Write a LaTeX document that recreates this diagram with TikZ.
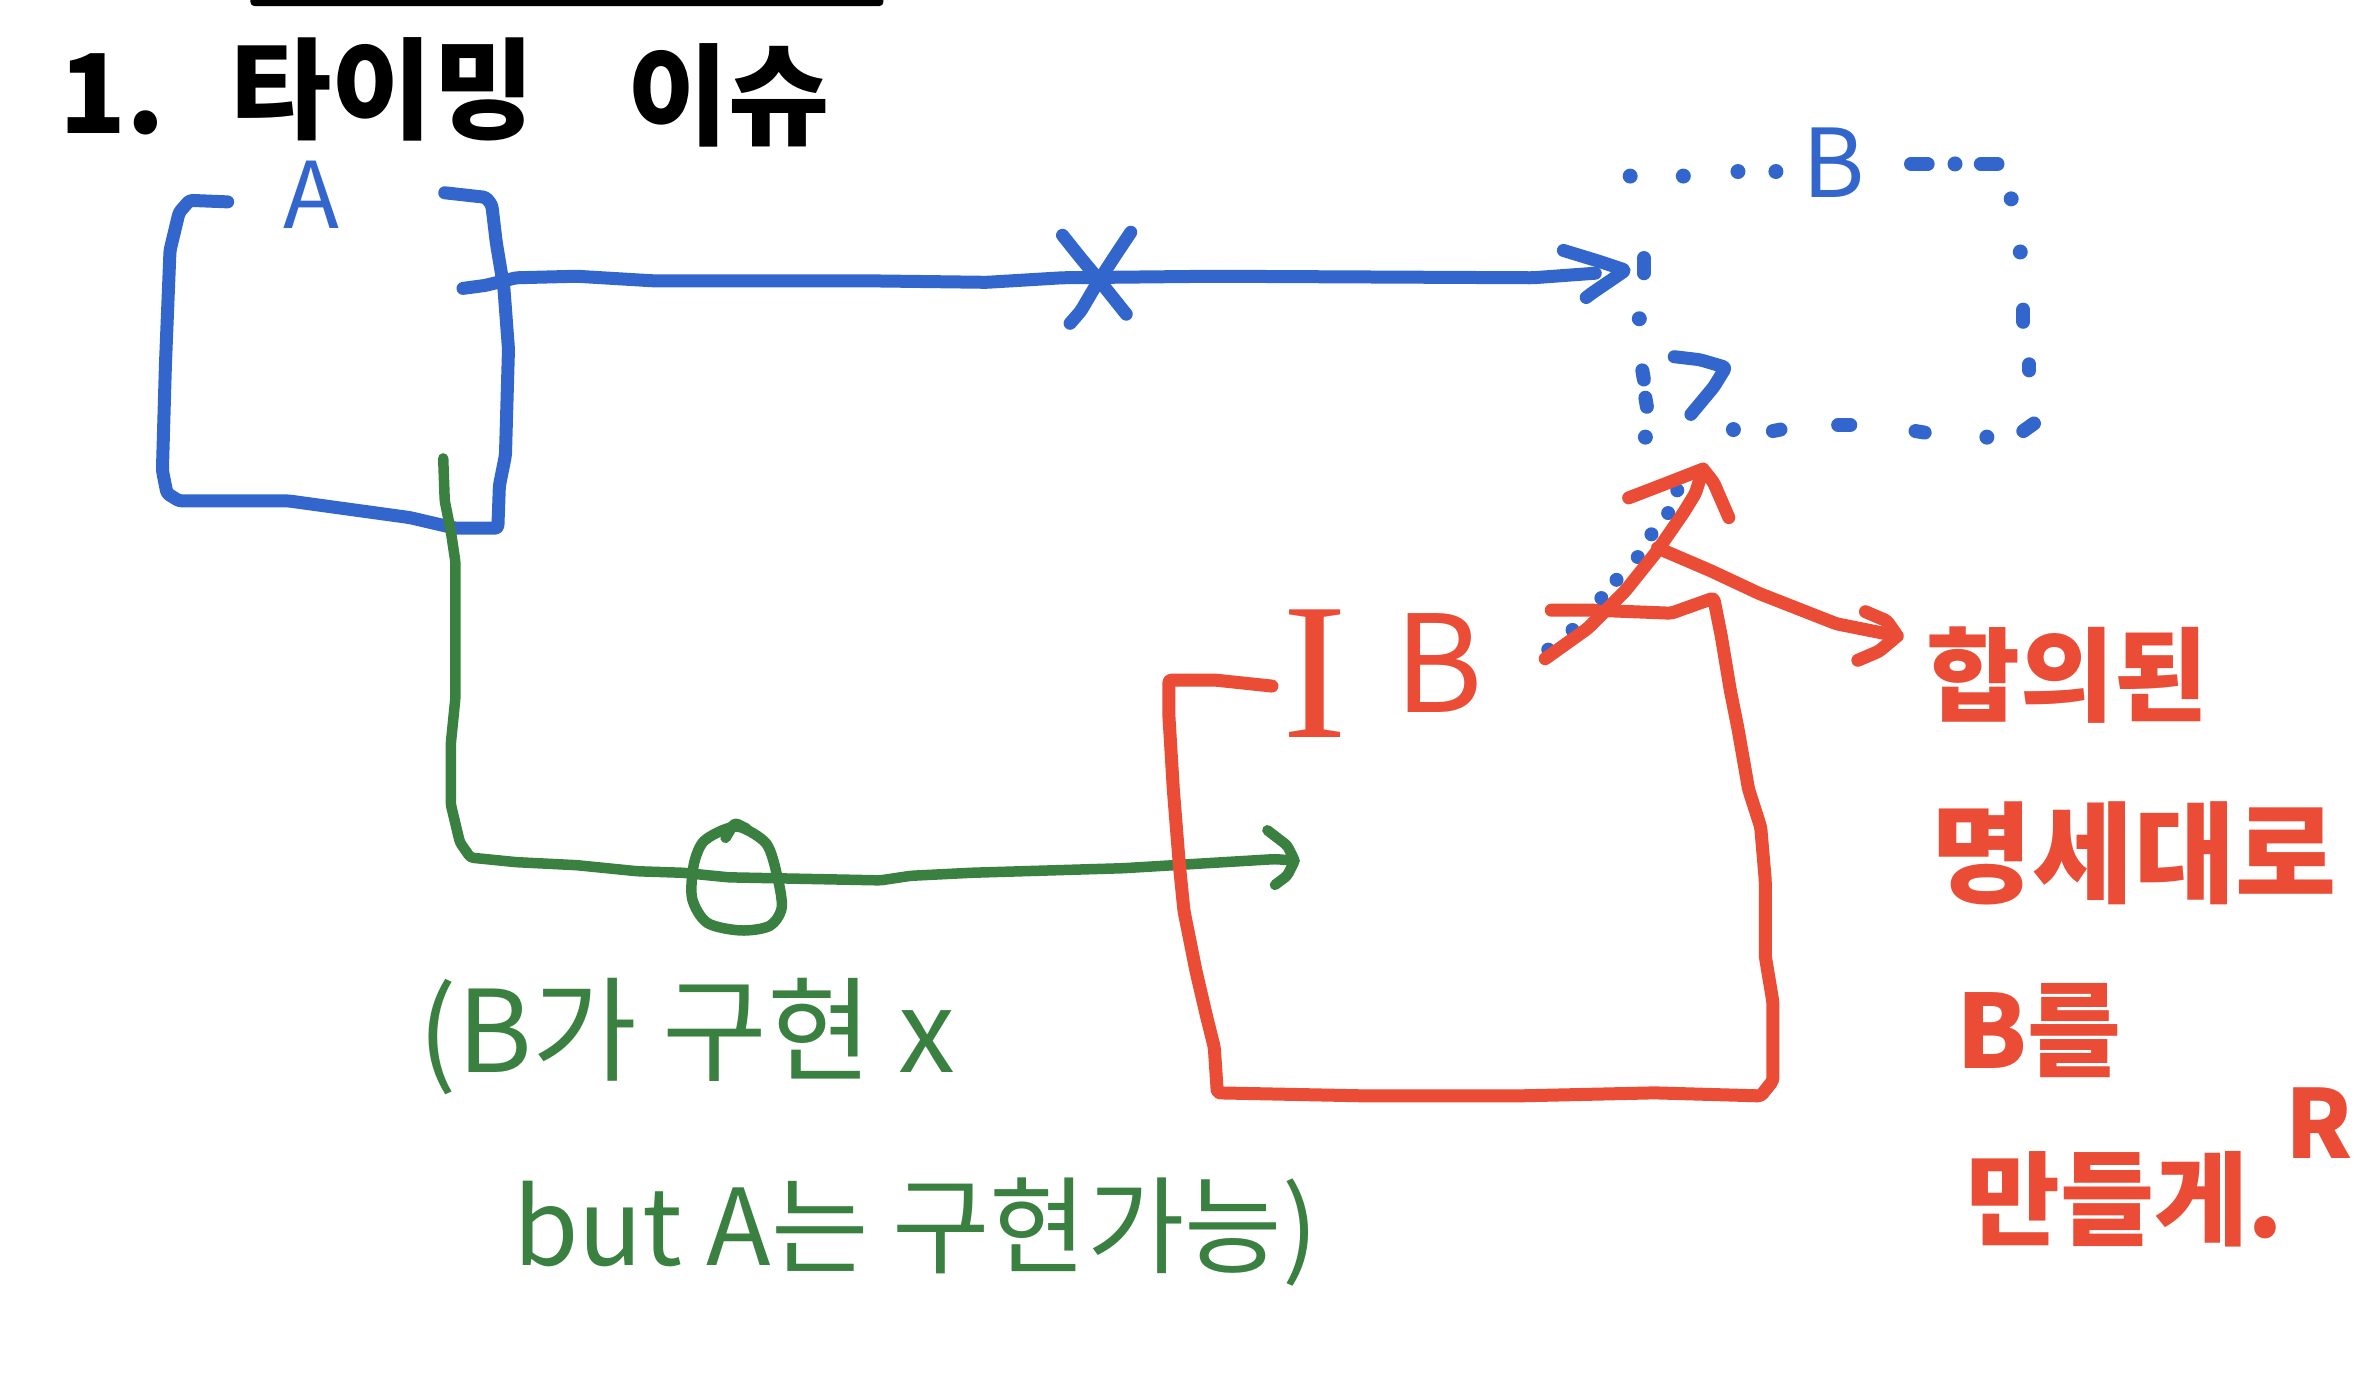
\documentclass[tikz,border=0pt]{standalone}
\usepackage{fontspec}
\setmainfont{Noto Sans CJK KR}
\newfontfamily\serifI{Liberation Serif}
\definecolor{pblue}{RGB}{51,102,204}
\definecolor{pred}{RGB}{234,76,54}
\definecolor{pgreen}{RGB}{58,128,64}
\newcommand{\fsz}[1]{\fontsize{#1pt}{#1pt}\selectfont}
\begin{document}
\begin{tikzpicture}[x=1.518pt,y=-1.518pt,
  bl/.style={draw=pblue,line width=13pt,line cap=round,line join=round,rounded corners=3pt},
  rd/.style={draw=pred,line width=13pt,line cap=round,line join=round,rounded corners=3pt},
  gr/.style={draw=pgreen,line width=10.5pt,line cap=round,line join=round,rounded corners=3pt},
  bdash/.style={draw=pblue,line width=14pt,line cap=round},
  txt/.style={inner sep=0pt,outer sep=0pt}]
\useasboundingbox[fill=white] (0,0) rectangle (1568,917);

% top black bar
\fill[black,rounded corners=4pt] (165,-8) rectangle (582,4);

% title
\node[txt,font=\fsz{110}\bfseries] (t1) at (74,62) {1.};
\node[txt,font=\fsz{110}\bfseries] (t2) at (252,59) {타이밍};
\node[txt,font=\fsz{110}\bfseries] (t3) at (480,63) {이슈};

% box A
\node[txt,text=pblue,font=\fsz{92}] (Alab) at (205,128) {A};
\draw[bl] (150,133) -- (125,132) -- (118,140) -- (112,165) -- (109,240) -- (107,310) -- (110,325) -- (118,330) -- (190,330) -- (270,341) -- (300,348) -- (328,348) -- (329,320) -- (333,300) -- (335,230) -- (332,190) -- (327,160) -- (324,135) -- (320,130) -- (293,127);

% blue arrow A -> B
\coordinate (a0) at (305,190);
\coordinate (a1) at (1051,180);
\coordinate (bt) at (1071,178);
\draw[bl] (a0) -- (320,188) -- (340,183) -- (380,182) -- (430,185) -- (570,185) -- (650,186) -- (700,183) -- (800,182) -- (1010,183) -- (a1);
\draw[bl] (1030,165) -- (1053,172) -- (bt) -- (1049,193) -- (1045,196);
% X mark
\draw[bl] (700,155) -- (712,170) -- (722,182) -- (742,207);
\draw[bl] (745,153) -- (735,168) -- (722,188) -- (712,205) -- (705,213);

% dotted box B
\node[txt,text=pblue,font=\fsz{95}] (Blab) at (1208,107) {B};
\foreach \p in {(1074,116),(1109,116),(1145,113),(1170,113),(1288,108),(1325,131),(1331,166),(1309,288),(1142,283),(1084,288),(1080,210)}
  \fill[pblue] \p circle[radius=7.5pt];
\draw[bdash] (1259,108) -- (1270,108);
\draw[bdash] (1305,108) -- (1316,108);
\draw[bdash] (1333,204) -- (1333,212);
\draw[bdash] (1337,240) -- (1337,244);
\draw[bdash] (1333,284) -- (1340,279);
\draw[bdash] (1262,284) -- (1268,285);
\draw[bdash] (1211,280) -- (1219,280);
\draw[bdash] (1168,284) -- (1173,283);
\draw[bdash] (1084,262) -- (1085,268);
\draw[bdash] (1082,244) -- (1083,250);
\draw[bdash] (1083,170) -- (1083,180);
% question hook
\draw[bl] (1103,235) -- (1120,237) -- (1137,242) -- (1129,255) -- (1114,273);

% green connector A -> red box
\coordinate (g0) at (292,302);
\coordinate (gt) at (853,567);
\draw[gr] (g0) -- (293,330) -- (297,350) -- (300,370) -- (300,460) -- (297,490) -- (297,530) -- (303,555) -- (310,565) -- (340,568) -- (380,570) -- (420,574) -- (450,575) -- (480,578) -- (580,580) -- (600,577) -- (640,575) -- (740,572) -- (840,566) -- (gt);
\draw[gr] (835,547) -- (848,557) -- (gt) -- (848,577) -- (840,583);
% green circle
\draw[gr,rounded corners=0pt] plot[smooth cycle] coordinates {(488,545) (505,556) (512,577) (515,598) (507,610) (488,613) (466,608) (456,592) (457,570) (463,555) (476,547)};
\draw[gr] (478,552) -- (484,542) -- (492,546);

% green text
\node[txt,text=pgreen,font=\fsz{114},anchor=west] (g1) at (276,683) {(B가 구현 x};
\node[txt,text=pgreen,font=\fsz{106},anchor=west] (g2) at (338,812) {but A는 구현가능)};

% red box
\draw[rd] (838,452) -- (800,448) -- (770,448) -- (770,470) -- (773,520) -- (777,570) -- (780,600) -- (788,640) -- (795,670) -- (800,690) -- (802,720) -- (900,722) -- (1000,722) -- (1090,720) -- (1160,722) -- (1168,712) -- (1168,660) -- (1163,630) -- (1163,580) -- (1160,545) -- (1152,520) -- (1145,480) -- (1140,455) -- (1134,419) -- (1129,394) -- (1101,404) -- (1050,402) -- (1022,402);
\node[txt,text=pred,font=\serifI\fsz{195}] (rI) at (866,444) {I};
\node[txt,text=pred,font=\fsz{135}] (rB) at (948,437) {B};

% blue dotted trail under red arrow
\foreach \p in {(1020,428),(1036,415),(1055,394),(1065,382),(1079,367),(1088,352),(1099,338),(1105,323)}
  \fill[pblue] \p circle[radius=7pt];

% red arrow up to B
\coordinate (r0) at (1018,434);
\coordinate (rt) at (1122,309);
\draw[rd] (r0) -- (1046,414) -- (1071,389) -- (1091,364) -- (1109,338) -- (1117,325) -- (rt);
\draw[rd] (1073,328) -- (1099,318) -- (rt) -- (1129,318) -- (1139,341);

% red arrow to note
\coordinate (s0) at (1092,361);
\coordinate (st) at (1250,419);
\draw[rd] (s0) -- (1127,376) -- (1159,391) -- (1210,411) -- (st);
\draw[rd] (1229,403) -- (1243,409) -- (st) -- (1238,429) -- (1224,435);

% red note
\node[txt,text=pred,font=\fsz{102}\bfseries] (r1) at (1362,445) {합의된};
\node[txt,text=pred,font=\fsz{110}\bfseries] (r2) at (1406,562) {명세대로};
\node[txt,text=pred,font=\fsz{102}\bfseries] (r3) at (1343,679) {B를};
\node[txt,text=pred,font=\fsz{102}\bfseries] (r4) at (1400,790) {만들게.};
\node[txt,text=pred,font=\fsz{95}\bfseries] (r5) at (1528,740) {R};
\end{tikzpicture}
\end{document}
